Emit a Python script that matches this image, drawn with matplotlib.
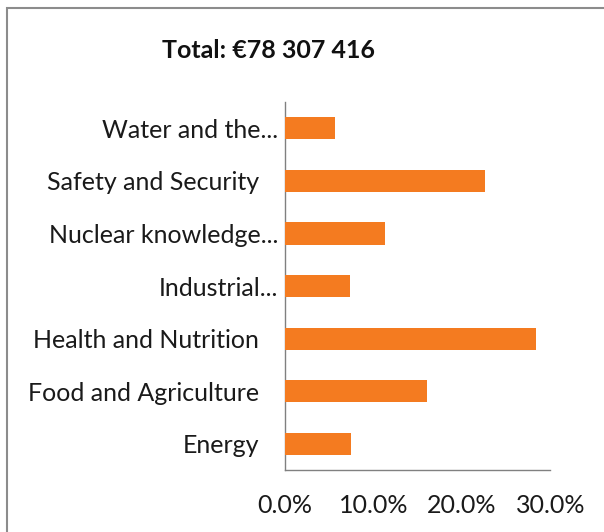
import matplotlib
matplotlib.use('Agg')
import matplotlib.pyplot as plt
from matplotlib.patches import Rectangle
from matplotlib.ticker import PercentFormatter
from matplotlib.transforms import ScaledTranslation

# data (bottom to top)
sectors = ['Energy', 'Food and Agriculture', 'Health and Nutrition', 'Industrial...',
           'Nuclear knowledge...', 'Safety and Security', 'Water and the...']
shares = [7.5, 16.1, 28.4, 7.4, 11.3, 22.6, 5.6]
xticks = [0, 10, 20, 30]
title = 'Total: €78 307 416'

plt.rcParams['font.family'] = ['Lato', 'DejaVu Sans']

fig = plt.figure(figsize=(6.04, 5.32), dpi=100)
ax = fig.add_axes([0.472, 0.1165, 0.439, 0.6915])

ax.barh(range(len(sectors)), shares, height=0.42, color='#F47B20', zorder=3)

ax.set_xlim(0, 30)
ax.set_ylim(-0.5, len(sectors) - 0.5)
ax.set_yticks(range(len(sectors)))
ax.set_yticklabels(sectors, fontsize=18, color='#1a1a1a')
ax.set_xticks(xticks)
ax.xaxis.set_major_formatter(PercentFormatter(decimals=1))
ax.tick_params(axis='x', length=0, pad=17, labelsize=18, labelcolor='#1a1a1a')
ax.tick_params(axis='y', length=0, pad=5)

# Excel-style: untruncated labels sit further left, the ellipsis spills over
shift = ScaledTranslation(-19 / 100, 0, fig.dpi_scale_trans)
for lab in ax.get_yticklabels():
    if not lab.get_text().endswith('...'):
        lab.set_transform(lab.get_transform() + shift)

for s in ['top', 'right']:
    ax.spines[s].set_visible(False)
for s in ['left', 'bottom']:
    ax.spines[s].set_color('#808080')
    ax.spines[s].set_linewidth(1.0)

fig.text(0.444, 0.906, title, ha='center', va='center', fontsize=18,
         fontweight='bold', color='#111111')

# outer chart border
fig.patches.append(Rectangle((7 / 604, -0.05), 1.1, 1 - 8 / 532 + 0.05,
                             transform=fig.transFigure, fill=False,
                             edgecolor='#8c8c8c', linewidth=1.5))

fig.savefig('out.png', dpi=100)
